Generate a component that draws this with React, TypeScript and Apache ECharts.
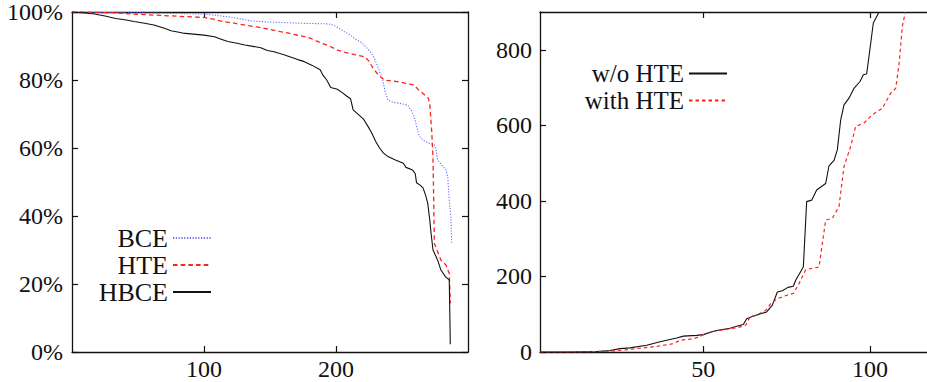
import React, { useEffect, useRef } from "react";
import * as echarts from "echarts";

// ---- Left chart: ratio (%) vs. rank ----
const leftXTicks = [100, 200];
const leftYTicks = [0, 20, 40, 60, 80, 100];

const bcePoints: [number, number][] = [
  [0, 100], [60, 99.7], [100, 99.4], [118, 98.6], [128, 98], [135, 97.4], [146, 97.1],
  [173, 96.7], [194, 96.5], [198, 96.2], [201, 95.5], [206, 94.3], [211, 93.2], [214, 92.2],
  [219, 91.1], [222, 90], [226, 88.3], [229, 86.5], [231.6, 83.9], [234, 81.5], [235.4, 80],
  [237, 77], [239.2, 74.1], [243, 73.5], [250, 73], [254.3, 72.6], [257, 71], [259.3, 69.2],
  [261, 66.5], [263.1, 63.5], [266, 62.3], [270, 61.5], [274.5, 60.9], [275.8, 59.4],
  [277, 56.5], [280, 55], [283.3, 53.5], [284.6, 51.6], [285.8, 44.7], [287, 39.8], [287.6, 32],
];

const htePoints: [number, number][] = [
  [0, 100], [30, 99.8], [47, 99.4], [72, 98.9], [100, 98.4], [108, 97.8], [113, 97.3],
  [123, 96.7], [133, 96], [140, 95.6], [148, 95], [158, 94.2], [165, 93.7], [173, 93],
  [180, 92.4], [188, 91], [195, 90], [201, 88.8], [209, 87.9], [215, 87.4], [222, 86.8],
  [225, 85.5], [228, 83.5], [232, 81.5], [236.6, 80], [246.7, 79.5], [252, 79.1], [259.3, 78.5],
  [262, 77.3], [266, 76], [270, 74.6], [271, 73], [272.5, 65], [273.5, 57], [274, 45],
  [274.5, 32], [277, 29.5], [279.5, 27], [283.3, 25.6], [285.8, 23.1], [286.6, 14.3],
];

const hbcePoints: [number, number][] = [
  [0, 100], [10, 99.7], [17, 99.4], [25, 98.8], [33, 98.1], [40, 97.7], [47, 97.2], [55, 96.7],
  [62, 96.2], [70, 95.2], [75, 94.5], [84, 93.8], [92, 93.5], [100, 93.2], [108, 92.7],
  [113, 92], [118, 91.3], [125, 90.8], [131, 90.3], [137, 89.9], [143, 89.5], [148, 88.7],
  [153, 88.3], [160, 87.5], [166, 86.7], [171, 86], [176, 85.4], [182, 84.3], [188, 83],
  [190, 81.5], [193, 80], [196, 77.8], [201, 77.3], [204, 76.5], [208, 75.3], [211, 74.5],
  [213, 71.2], [216, 70.2], [221, 68.4], [224, 66.5], [227, 64.5], [230, 62], [233, 60],
  [236, 58.5], [239, 57.6], [245, 56.5], [251, 55.5], [253, 54.3], [258, 53.5], [260, 52.5],
  [261, 49.8], [264, 49], [266, 48.2], [268, 46], [269.5, 43.7], [271, 39], [272, 35],
  [273.5, 30], [277, 27], [279.5, 24.1], [283, 22.1], [285.8, 21.2], [286.6, 2.3],
];

// ---- Right chart: cumulative value vs. index ----
const rightXTicks = [50, 100];
const rightYTicks = [0, 200, 400, 600, 800];

const withoutHtePoints: [number, number][] = [
  [1, 0], [10, 0], [18, 1], [22, 4], [25, 9], [28, 11], [33, 18], [37, 27], [42, 37], [44, 42],
  [48, 44], [50, 46], [52, 52], [54, 57], [58, 63], [60, 68], [62, 73], [63, 88], [65, 95],
  [69, 106], [70.7, 124], [72.2, 159], [73.7, 162], [75.4, 171], [77, 174], [77.7, 190],
  [80, 225], [81, 398], [82.5, 402], [84, 429], [86.7, 446], [87.7, 493], [89.2, 507],
  [90.2, 535], [91.2, 614], [92.2, 654], [93.7, 672], [95.2, 698], [97, 716], [98, 734],
  [99, 736], [101, 871], [102.7, 900],
];

const withHtePoints: [number, number][] = [
  [1, 0], [10, 0], [18, 1], [22, 2], [26, 5], [30, 9], [36, 15], [41, 22], [43, 31], [47, 35],
  [49.2, 42], [50, 46], [53.2, 55], [55, 57], [58.2, 62], [60, 64], [62.7, 71], [64, 93],
  [66, 98], [68.7, 110], [70.2, 128], [72.2, 141], [75, 150], [77, 155], [78.7, 181],
  [80.7, 218], [84.7, 225], [86.7, 349], [88.7, 354], [90.7, 385], [92.2, 491], [94.2, 544],
  [95.7, 597], [98.2, 606], [100.7, 628], [103.7, 645], [106.2, 685], [107.7, 698],
  [108.7, 760], [109.2, 809], [109.7, 862], [110.6, 900],
];

const FONT = "Liberation Serif";
const INK = "#111";

export default function App() {
  const ref = useRef<HTMLDivElement>(null);

  useEffect(() => {
    if (!ref.current) return;
    const chart = echarts.init(ref.current, undefined, { renderer: "svg" });

    const border = { show: true, onZero: false, lineStyle: { color: INK, width: 1.3 } };
    const ticks = (vals: number[]) => ({
      show: true,
      inside: true,
      length: 6,
      customValues: vals,
      lineStyle: { color: INK, width: 1.2 },
    });
    const labels = (vals: number[], size: number, margin: number, fmt?: string) => ({
      show: true,
      customValues: vals,
      fontFamily: FONT,
      fontSize: size,
      color: INK,
      margin,
      ...(fmt ? { formatter: fmt } : {}),
    });

    const legendBase = {
      orient: "vertical" as const,
      align: "right" as const,
      itemWidth: 38,
      itemHeight: 14,
      padding: 0,
      itemGap: 0,
      selectedMode: false,
      itemStyle: { opacity: 0 },
    };
    const leftLegendText = { fontFamily: FONT, fontSize: 26, color: INK };
    const rightLegendText = { fontFamily: FONT, fontSize: 25, color: INK };

    const option: any = {
      animation: false,
      backgroundColor: "#fff",
      grid: [
        { left: 72, top: 12, width: 396, height: 340 },
        { left: 540, top: 12, right: 0, height: 340 },
      ],
      xAxis: [
        {
          gridIndex: 0, type: "value", min: 0, max: 300, position: "bottom",
          axisLine: border, axisTick: ticks(leftXTicks), axisLabel: labels(leftXTicks, 24, 5),
          splitLine: { show: false },
        },
        {
          gridIndex: 0, type: "value", min: 0, max: 300, position: "top",
          axisLine: border, axisTick: ticks(leftXTicks), axisLabel: { show: false },
          splitLine: { show: false },
        },
        {
          gridIndex: 1, type: "value", min: 1, max: 117.1, position: "bottom",
          axisLine: border, axisTick: ticks(rightXTicks), axisLabel: labels(rightXTicks, 24, 5),
          splitLine: { show: false },
        },
        {
          gridIndex: 1, type: "value", min: 1, max: 117.1, position: "top",
          axisLine: border, axisTick: ticks(rightXTicks), axisLabel: { show: false },
          splitLine: { show: false },
        },
      ],
      yAxis: [
        {
          gridIndex: 0, type: "value", min: 0, max: 100, position: "left",
          axisLine: border, axisTick: ticks(leftYTicks),
          axisLabel: labels(leftYTicks, 24, 9, "{value}%"),
          splitLine: { show: false },
        },
        {
          gridIndex: 0, type: "value", min: 0, max: 100, position: "right",
          axisLine: border, axisTick: ticks(leftYTicks), axisLabel: { show: false },
          splitLine: { show: false },
        },
        {
          gridIndex: 1, type: "value", min: 0, max: 900, position: "left",
          axisLine: border, axisTick: ticks(rightYTicks),
          axisLabel: labels(rightYTicks, 24, 8),
          splitLine: { show: false },
        },
      ],
      legend: [
        { ...legendBase, data: ["BCE"], right: 715, top: 225, textStyle: leftLegendText },
        { ...legendBase, data: ["HTE"], right: 715, top: 252, textStyle: leftLegendText },
        { ...legendBase, data: ["HBCE"], right: 715, top: 279, textStyle: leftLegendText },
        { ...legendBase, data: ["w/o HTE"], right: 199, top: 61, textStyle: rightLegendText },
        { ...legendBase, data: ["with HTE"], right: 199, top: 88, textStyle: rightLegendText },
      ],
      series: [
        {
          name: "BCE", type: "line", xAxisIndex: 0, yAxisIndex: 0, data: bcePoints,
          symbol: "none", color: "#6b6bff",
          lineStyle: { color: "#6b6bff", width: 1.1, type: [1.2, 1.6] },
        },
        {
          name: "HTE", type: "line", xAxisIndex: 0, yAxisIndex: 0, data: htePoints,
          symbol: "none", color: "#ff2020",
          lineStyle: { color: "#ff2020", width: 1.3, type: [4.5, 3.2] },
        },
        {
          name: "HBCE", type: "line", xAxisIndex: 0, yAxisIndex: 0, data: hbcePoints,
          symbol: "none", color: "#111",
          lineStyle: { color: "#111", width: 1.1, type: "solid" },
        },
        {
          name: "w/o HTE", type: "line", xAxisIndex: 2, yAxisIndex: 2, data: withoutHtePoints,
          symbol: "none", color: "#111",
          lineStyle: { color: "#111", width: 1.1, type: "solid" },
        },
        {
          name: "with HTE", type: "line", xAxisIndex: 2, yAxisIndex: 2, data: withHtePoints,
          symbol: "none", color: "#ff2020",
          lineStyle: { color: "#ff2020", width: 1.2, type: [3.5, 3] },
        },
      ],
    };

    chart.setOption(option);
    return () => chart.dispose();
  }, []);

  return (
    <div
      ref={ref}
      style={{ position: "fixed", left: 0, top: 0, width: 927, height: 382, background: "#fff" }}
    />
  );
}
